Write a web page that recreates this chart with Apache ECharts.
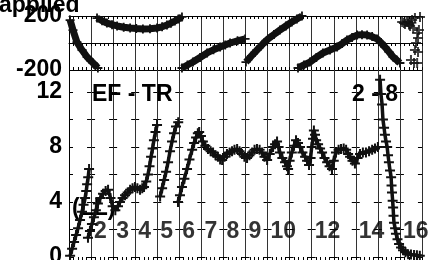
<!DOCTYPE html>
<html>
<head>
<meta charset="utf-8">
<script src="https://cdn.jsdelivr.net/npm/echarts@6/dist/echarts.min.js"></script>
<style>
  html, body { margin: 0; padding: 0; background: #fff; }
  #chart { width: 440px; height: 260px; }
</style>
</head>
<body>
<div id="chart"></div>
<script>
// applied phase (deg), null = wrap / break
var phasePts = [
  [0.05, 170], [0.18, 96], [0.36, 7], [0.59, -52], [0.82, -104], [1.09, -148], [1.31, -185],
  null,
  [1.27, 185], [1.5, 165], [1.72, 148], [1.95, 136], [2.18, 126], [2.48, 117], [2.77, 111],
  [3.05, 107], [3.35, 104], [3.67, 106], [3.99, 111], [4.22, 120], [4.44, 133], [4.62, 147],
  [4.8, 163], [4.96, 178], [5.12, 193],
  null,
  [5.12, -185], [5.37, -163], [5.62, -141], [5.94, -107], [6.26, -74], [6.55, -50],
  [6.85, -30], [7.08, -14], [7.3, 0], [7.64, 16], [7.98, 30],
  null,
  [8.02, -141], [8.27, -96], [8.52, -52], [8.77, -10], [9.02, 30], [9.29, 63], [9.56, 96],
  [9.83, 126], [10.1, 156], [10.33, 178], [10.56, 200],
  null,
  [10.38, -185], [10.65, -163], [10.92, -141], [11.21, -107], [11.51, -74], [11.83, -52],
  [12.15, -30], [12.38, -4], [12.6, 22], [12.83, 41], [13.06, 59], [13.28, 62], [13.51, 59],
  [13.74, 48], [13.96, 30], [14.14, 3], [14.32, -30], [14.5, -65], [14.69, -104], [14.85, -126],
  [15.0, -148]
];
var phaseScatter = [
  [15.1, 156], [15.18, 148], [15.23, 141], [15.3, 160], [15.37, 156], [15.42, 135],
  [15.46, 126], [15.52, 150], [15.55, 170], [15.6, 111], [15.68, 185], [15.78, 74],
  [15.82, 37], [15.73, 0], [15.68, -52], [15.82, -67], [15.5, -126], [15.64, -148],
  [15.78, -148], [15.91, 193], [15.86, 96]
];
// EF - TR ratio, null = break
var ratioPts = [
  [0.05, 0.1], [0.14, 0.6], [0.23, 1.1], [0.32, 1.6], [0.41, 2.1], [0.5, 2.7], [0.59, 3.3],
  [0.66, 3.8], [0.73, 4.3], [0.78, 4.8], [0.82, 5.3], [0.87, 5.8], [0.91, 6.4],
  null,
  [0.86, 1.4], [0.95, 1.9], [1.04, 2.4], [1.13, 2.9], [1.22, 3.4], [1.31, 3.9], [1.42, 4.3],
  [1.54, 4.6], [1.66, 4.8], [1.77, 4.9], [1.88, 4.3], [1.98, 3.7], [2.1, 3.4], [2.22, 3.7],
  [2.31, 4.0], [2.43, 4.3], [2.54, 4.5], [2.66, 4.7], [2.77, 4.9], [2.88, 5.0], [2.99, 5.1],
  [3.1, 5.0], [3.22, 4.9], [3.32, 5.0], [3.4, 5.1], [3.5, 5.5], [3.58, 6.0], [3.65, 6.6],
  [3.72, 7.3], [3.79, 7.9], [3.85, 8.5], [3.92, 9.1], [3.99, 9.6],
  null,
  [4.13, 4.4], [4.22, 5.0], [4.31, 5.6], [4.4, 6.2], [4.49, 6.9], [4.58, 7.7], [4.67, 8.4],
  [4.76, 9.0], [4.85, 9.5], [4.95, 9.8],
  null,
  [4.94, 4.0], [5.03, 4.5], [5.12, 5.1], [5.23, 5.7], [5.35, 6.4], [5.46, 7.1], [5.58, 7.8],
  [5.67, 8.3], [5.76, 8.7], [5.84, 9.0], [5.9, 9.1], [5.98, 8.8], [6.07, 8.4], [6.18, 8.1],
  [6.3, 7.85], [6.42, 7.7], [6.53, 7.6], [6.64, 7.4], [6.75, 7.3], [6.85, 7.1], [6.94, 7.05],
  [7.05, 7.3], [7.16, 7.5], [7.28, 7.6], [7.39, 7.7], [7.5, 7.8], [7.62, 7.85], [7.73, 7.7],
  [7.84, 7.5], [7.95, 7.3], [8.07, 7.2], [8.18, 7.4], [8.3, 7.6], [8.41, 7.8], [8.52, 7.85],
  [8.64, 7.8], [8.75, 7.6], [8.86, 7.3], [8.98, 7.05], [9.1, 7.5], [9.25, 8.0], [9.34, 8.2],
  [9.43, 8.4], [9.5, 8.0], [9.56, 7.6], [9.67, 7.2], [9.79, 6.9], [9.88, 6.6], [9.93, 6.4],
  [10.0, 7.0], [10.1, 7.6], [10.2, 8.1], [10.29, 8.5], [10.38, 8.3], [10.47, 8.0], [10.58, 7.6],
  [10.7, 7.3], [10.79, 7.0], [10.88, 6.7], [10.95, 7.2], [11.0, 8.0], [11.06, 8.6], [11.1, 9.2],
  [11.15, 8.9], [11.2, 8.5], [11.29, 8.2], [11.38, 7.9], [11.47, 7.6], [11.58, 7.2], [11.7, 6.9],
  [11.81, 6.6], [11.92, 6.4], [12.0, 7.0], [12.1, 7.6], [12.22, 7.8], [12.33, 7.85], [12.45, 7.9],
  [12.56, 7.8], [12.65, 7.5], [12.74, 7.3], [12.85, 7.0], [12.96, 6.8], [13.08, 7.2], [13.19, 7.5],
  [13.32, 7.6], [13.46, 7.6], [13.6, 7.7], [13.74, 7.8], [13.87, 7.9], [14.0, 8.0],
  null,
  [14.1, 12.9], [14.14, 11.85], [14.19, 11.1], [14.23, 10.0], [14.28, 9.4], [14.32, 8.9],
  [14.37, 8.4], [14.42, 8.0], [14.46, 7.4], [14.5, 6.9], [14.55, 6.3], [14.6, 5.8], [14.62, 5.2],
  [14.64, 4.7], [14.67, 4.1], [14.69, 3.6], [14.71, 3.0], [14.73, 2.5], [14.78, 2.1], [14.82, 1.7],
  [14.89, 1.3], [14.96, 0.95], [15.05, 0.7], [15.14, 0.5], [15.25, 0.35], [15.37, 0.2],
  [15.5, 0.18], [15.64, 0.15], [15.77, 0.12], [15.9, 0.1]
];
// numbers printed along the bottom of the lower panel
var stepLabels = ['2', '3', '4', '5', '6', '7', '8', '9', '10', '12', '14', '16'];
var stepAt = [1, 2, 3, 4, 5, 6, 7, 8, 9, 11, 13, 15];
var stepRowY = 1.85;

var PLUS = 'path://M4,0H6V4H10V6H6V10H4V6H0V4H4Z';
var FONT = 'Liberation Sans';
var INK = '#111';

function withBreaks(pts) {
  return pts.map(function (p) { return p ? p : ['-', '-']; });
}

function xAx(grid, pos, opt) {
  return {
    type: 'value', gridIndex: grid, position: pos, min: 0, max: 16, interval: 1,
    axisLabel: { show: false },
    axisLine: { show: opt.line, lineStyle: { color: '#000', width: 1 } },
    axisTick: { show: true, inside: opt.inside, length: 3, lineStyle: { color: '#000' } },
    minorTick: { show: true, splitNumber: 5, length: 3, lineStyle: { color: '#000' } },
    splitLine: { show: opt.split, lineStyle: { color: '#333', width: 1 } }
  };
}

var chart = echarts.init(document.getElementById('chart'), null, { renderer: 'canvas' });
chart.setOption({
  animation: false,
  backgroundColor: '#fff',
  grid: [
    { left: 69, top: 16, width: 353, height: 54, outerBoundsMode: 'none', containLabel: false },
    { left: 69, top: 70, width: 353, height: 187, outerBoundsMode: 'none', containLabel: false }
  ],
  xAxis: [
    xAx(0, 'bottom', { line: true, inside: false, split: true }),
    xAx(0, 'top', { line: true, inside: true, split: false }),
    xAx(1, 'bottom', { line: false, inside: false, split: true }),
    xAx(1, 'top', { line: false, inside: false, split: false })
  ],
  yAxis: [
    {
      type: 'value', gridIndex: 0, min: -200, max: 200, interval: 200,
      axisLine: { show: true, lineStyle: { color: '#000' } },
      axisTick: { show: false },
      axisLabel: {
        margin: 7, color: '#000', fontFamily: FONT, fontWeight: 'bold', fontSize: 23,
        formatter: function (v) { return v === 0 ? '' : String(v); }
      },
      splitLine: { show: true, lineStyle: { color: '#000', width: 1 } }
    },
    {
      type: 'value', gridIndex: 1, min: 0, max: 13.6, interval: 2,
      axisLine: { show: true, lineStyle: { color: '#000' } },
      axisTick: { show: false },
      axisLabel: {
        margin: 7, color: '#000', fontFamily: FONT, fontWeight: 'bold', fontSize: 23,
        formatter: function (v) { return (v % 4 === 0) ? String(v) : ''; }
      },
      splitLine: { show: true, lineStyle: { color: '#000', width: 1, type: [8, 14.06], dashOffset: 4 } }
    }
  ],
  graphic: [
    { type: 'text', left: -1, top: -6, z: 1, style: { text: 'applied', fill: '#000', font: 'bold 23px "Liberation Sans"' } },
    { type: 'text', left: 92, top: 83, z: 1, style: { text: 'EF - TR', fill: '#000', font: 'bold 23px "Liberation Sans"' } },
    { type: 'text', left: 352, top: 83, z: 1, style: { text: '2 - 8', fill: '#000', font: 'bold 23px "Liberation Sans"' } },
    { type: 'text', left: 72, top: 197, z: 1, style: { text: '(LL)', fill: '#000', font: 'bold 23px "Liberation Sans"' } }
  ],
  series: [
    {
      type: 'line', xAxisIndex: 0, yAxisIndex: 0, data: withBreaks(phasePts),
      connectNulls: false, showSymbol: true, showAllSymbol: true,
      symbol: PLUS, symbolSize: 9,
      lineStyle: { color: INK, width: 7 },
      itemStyle: { color: INK }, z: 3
    },
    {
      type: 'scatter', xAxisIndex: 0, yAxisIndex: 0, data: phaseScatter,
      symbol: PLUS, symbolSize: 10, itemStyle: { color: INK }, z: 3
    },
    {
      type: 'line', xAxisIndex: 2, yAxisIndex: 1, data: withBreaks(ratioPts),
      connectNulls: false, showSymbol: true, showAllSymbol: true,
      symbol: PLUS, symbolSize: 10,
      lineStyle: { color: INK, width: 3.5 },
      itemStyle: { color: INK }, z: 3
    },
    {
      type: 'scatter', xAxisIndex: 2, yAxisIndex: 1, symbolSize: 0, silent: true,
      data: stepAt.map(function (x, i) { return { value: [x, stepRowY], name: stepLabels[i] }; }),
      label: {
        show: true, position: 'right', distance: 3, formatter: '{b}',
        color: '#000', fontFamily: FONT, fontWeight: 'bold', fontSize: 23
      },
      z: 2
    }
  ]
});
</script>
</body>
</html>
